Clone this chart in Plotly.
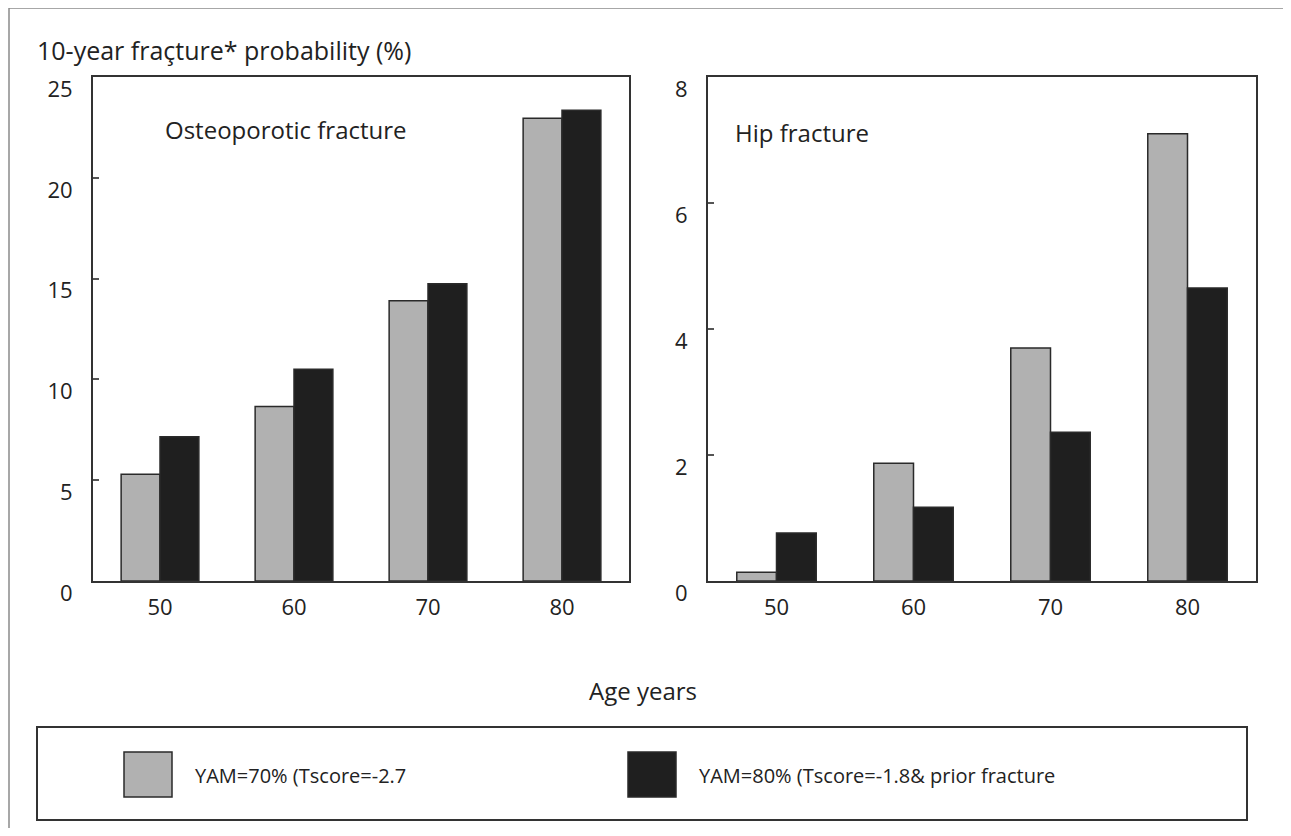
import plotly.graph_objects as go

ages = ["50", "60", "70", "80"]
osteo_yam70 = [5.3, 8.65, 13.9, 22.95]
osteo_yam80 = [7.15, 10.5, 14.75, 23.35]
hip_yam70 = [0.14, 1.87, 3.7, 7.1]
hip_yam80 = [0.76, 1.17, 2.36, 4.65]
osteo_ticks = [0, 5, 10, 15, 20, 25]
hip_ticks = [0, 2, 4, 6, 8]
series_names = ["YAM=70% (Tscore=-2.7", "YAM=80% (Tscore=-1.8& prior fracture"]

OX, OY = 8, 8
W, H = 1291 - 2 * OX, 836 - 2 * OY
GRAY = "#b1b1b1"
BLACK = "#1f1f1f"
EDGE = "#2a2a2a"
FONT = "Open Sans"
TXT = "#222222"

def px(x):
    return (x - OX) / W

def py(y):
    return 1 - (y - OY) / H

fig = go.Figure()
fig.add_trace(go.Bar(x=ages, y=osteo_yam70, name=series_names[0], xaxis="x", yaxis="y",
                     marker=dict(color=GRAY, line=dict(color=EDGE, width=1.5)), showlegend=False))
fig.add_trace(go.Bar(x=ages, y=osteo_yam80, name=series_names[1], xaxis="x", yaxis="y",
                     marker=dict(color=BLACK, line=dict(color=EDGE, width=1.5)), showlegend=False))
fig.add_trace(go.Bar(x=ages, y=hip_yam70, name=series_names[0], xaxis="x2", yaxis="y2",
                     marker=dict(color=GRAY, line=dict(color=EDGE, width=1.5)), showlegend=False))
fig.add_trace(go.Bar(x=ages, y=hip_yam80, name=series_names[1], xaxis="x2", yaxis="y2",
                     marker=dict(color=BLACK, line=dict(color=EDGE, width=1.5)), showlegend=False))

ydom = [py(581), py(77)]
common_x = dict(showline=True, linecolor="#333", linewidth=2, mirror=True, ticks="",
                showgrid=False, zeroline=False, ticklabelstandoff=6,
                tickfont=dict(family=FONT, size=22, color=TXT), fixedrange=True)
common_y = dict(showline=True, linecolor="#333", linewidth=2, mirror=True, ticks="inside",
                ticklen=6, tickcolor="#555", tickwidth=2, showgrid=False, zeroline=False,
                ticklabelstandoff=14, ticklabelshift=12,
                tickfont=dict(family=FONT, size=22, color=TXT), fixedrange=True)

fig.update_layout(
    width=W, height=H,
    margin=dict(l=0, r=0, t=0, b=0, autoexpand=False),
    paper_bgcolor="white", plot_bgcolor="white",
    barmode="group", bargap=0.42, bargroupgap=0,
    xaxis=dict(domain=[px(93), px(629)], anchor="y", **common_x),
    yaxis=dict(domain=ydom, anchor="x", range=[0, 25], tickvals=osteo_ticks, **common_y),
    xaxis2=dict(domain=[px(708), px(1256)], anchor="y2", **common_x),
    yaxis2=dict(domain=ydom, anchor="x2", range=[0, 8], tickvals=hip_ticks, **common_y),
    showlegend=False,
)

annots = [
    dict(text="10-year fraçture* probability (%)", x=px(35), y=py(50), xanchor="left", yanchor="middle", size=25),
    dict(text="Osteoporotic fracture", x=px(163), y=py(129), xanchor="left", yanchor="middle", size=24),
    dict(text="Hip fracture", x=px(733), y=py(132), xanchor="left", yanchor="middle", size=24),
    dict(text="Age years", x=px(643), y=py(690), xanchor="center", yanchor="middle", size=24),
    dict(text=series_names[0], x=px(193), y=py(775), xanchor="left", yanchor="middle", size=20),
    dict(text=series_names[1], x=px(697), y=py(775), xanchor="left", yanchor="middle", size=20),
]
for a in annots:
    sz = a.pop("size")
    fig.add_annotation(xref="paper", yref="paper", showarrow=False,
                       font=dict(family=FONT, size=sz, color=TXT), **a)

shapes = [
    # outer frame
    dict(type="rect", x0=px(9), x1=px(1310), y0=py(8), y1=py(860),
         line=dict(color="#8a8a8a", width=1.5), fillcolor="rgba(0,0,0,0)"),
    # legend box
    dict(type="rect", x0=px(37), x1=px(1247), y0=py(727), y1=py(820),
         line=dict(color="#333", width=2), fillcolor="rgba(0,0,0,0)"),
    # legend swatches
    dict(type="rect", x0=px(124), x1=px(172), y0=py(752), y1=py(797),
         line=dict(color=EDGE, width=1.5), fillcolor=GRAY),
    dict(type="rect", x0=px(628), x1=px(676), y0=py(752), y1=py(797),
         line=dict(color=EDGE, width=1.5), fillcolor=BLACK),
]
for s in shapes:
    fig.add_shape(xref="paper", yref="paper", **s)

fig.write_html("out.html")
